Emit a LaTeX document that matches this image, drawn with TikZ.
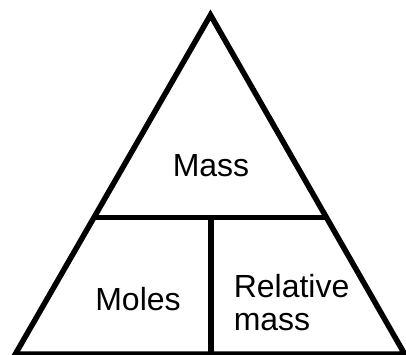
\documentclass[tikz,border=0pt]{standalone}
\usepackage{fontspec}
\setmainfont{Liberation Sans}
\usetikzlibrary{calc}
\tikzset{
  every picture/.style={line width=5.5pt},
  edge/.style={draw=black, line join=miter},
  label/.style={font=\fontsize{32}{33}\selectfont, inner sep=0pt},
}

\begin{document}
\begin{tikzpicture}[x=1pt, y=-1pt]
  \useasboundingbox (0,0) rectangle (406,354);
  \coordinate (apex) at (210.5,15);
  \coordinate (left) at (15.4,354);
  \coordinate (right) at (404.6,354);
  \coordinate (midl) at ($(left)!0.4027!(apex)$);
  \coordinate (midr) at ($(right)!0.4027!(apex)$);
  \coordinate (top) at (211,217.5);
  \coordinate (bot) at (211,354);
  % outline and the two dividers
  \draw[edge] (left) -- (apex) -- (right) -- cycle;
  \draw[edge] (midl) -- (midr);
  \draw[edge] (top) -- (bot);
  \node[label, anchor=base] (mass) at (211,176.7) {Mass};
  \node[label, anchor=base] (moles) at (138,310) {Moles};
  \node[label, anchor=north west, align=left] (relmass) at (231,272) {Relative\\mass};
\end{tikzpicture}
\end{document}
